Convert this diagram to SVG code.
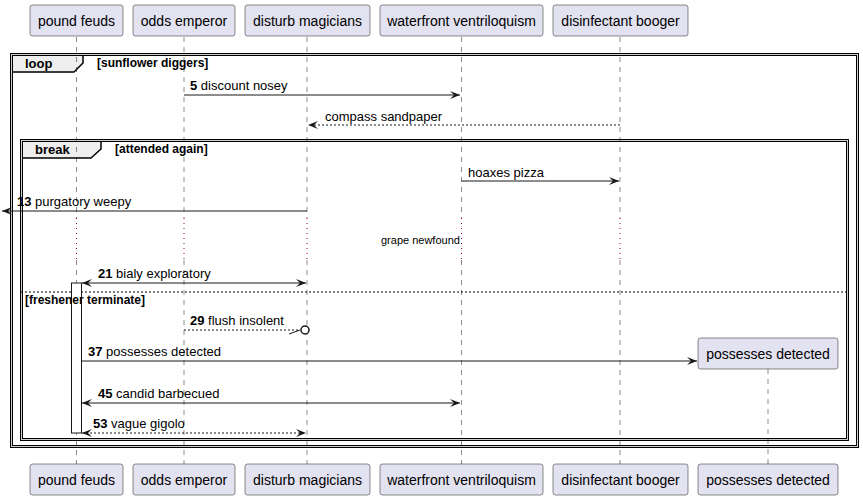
<svg xmlns="http://www.w3.org/2000/svg" width="863" height="501" viewBox="0 0 863 501">
<style>
.pbox{fill:#E2E2F0;stroke:#181818;stroke-width:0.5}
.plab{font-family:"Liberation Sans",Arial,sans-serif;font-size:14px;fill:#000;text-anchor:middle}
.life{stroke:#181818;stroke-width:0.5;stroke-dasharray:5,5;fill:none}
.delay{stroke:#990033;stroke-width:1;stroke-dasharray:1,4;fill:none}
.frame{fill:none;stroke:#000;stroke-width:3}
.frame2{fill:none;stroke:#d0d0d0;stroke-width:1}
.tab{fill:#EEEEEE;stroke:#000;stroke-width:1.5}
.ftitle{font-family:"Liberation Sans",Arial,sans-serif;font-size:13px;font-weight:bold;fill:#000}
.fcond{font-family:"Liberation Sans",Arial,sans-serif;font-size:12px;font-weight:bold;fill:#000}
.msg{stroke:#181818;stroke-width:1;fill:none}
.dash{stroke-dasharray:2,2}
.mtxt{font-family:"Liberation Sans",Arial,sans-serif;font-size:13px;fill:#000}
.num{font-weight:bold}
.note{font-family:"Liberation Sans",Arial,sans-serif;font-size:11px;fill:#000}
</style>
<defs>
<marker id="ah" viewBox="0 0 10 8" refX="10" refY="4" markerWidth="10" markerHeight="8" markerUnits="userSpaceOnUse" orient="auto-start-reverse">
<polygon points="0,0 10,4 0,8 4,4" fill="#181818"/>
</marker>
</defs>

<g id="frames">
<polygon class="tab" points="11.5,54.5 83,54.5 83,63 74,72 11.5,72"/>
<rect class="frame" x="11.5" y="54.5" width="846" height="392"/>
<rect class="frame2" x="11.5" y="54.5" width="846" height="392"/>
<text class="ftitle" x="25" y="68">loop</text>
<text class="fcond" x="97" y="67">[sunflower diggers]</text>
<polygon class="tab" points="21.5,140.5 101,140.5 101,149 91,158 21.5,158"/>
<rect class="frame" x="21.5" y="140.5" width="826" height="299"/>
<rect class="frame2" x="21.5" y="140.5" width="826" height="299"/>
<text class="ftitle" x="35" y="154">break</text>
<text class="fcond" x="115" y="153">[attended again]</text>
<line x1="21" y1="292" x2="848" y2="292" stroke="#000" stroke-width="1" stroke-dasharray="2,2"/>
</g>

<g id="lifelines">
<path class="life" d="M76.5,37V218M76.5,260V464"/>
<path class="life" d="M184,37V218M184,260V464"/>
<path class="life" d="M307,37V218M307,260V464"/>
<path class="life" d="M461.5,37V218M461.5,260V464"/>
<path class="life" d="M620,37V218M620,260V464"/>
<path class="life" d="M768,369V464"/>
<path class="delay" d="M76.5,218V260M184,218V260M307,218V260M461.5,218V260M620,218V260"/>
<text class="note" x="381" y="244">grape newfound</text>
</g>

<g id="activation">
<rect x="71.5" y="283" width="10" height="150" fill="#fff" stroke="#181818" stroke-width="1"/>
</g>

<g id="else-label">
<text class="fcond" x="25" y="304">[freshener terminate]</text>
</g>

<g id="p-pound-feuds">
<rect class="pbox" x="30" y="5" width="93" height="31" rx="2.5"/>
<text class="plab" x="76.5" y="26">pound feuds</text>
<rect class="pbox" x="30" y="464" width="93" height="31" rx="2.5"/>
<text class="plab" x="76.5" y="485">pound feuds</text>
</g>
<g id="p-odds-emperor">
<rect class="pbox" x="133" y="5" width="102" height="31" rx="2.5"/>
<text class="plab" x="184" y="26">odds emperor</text>
<rect class="pbox" x="133" y="464" width="102" height="31" rx="2.5"/>
<text class="plab" x="184" y="485">odds emperor</text>
</g>
<g id="p-disturb-magicians">
<rect class="pbox" x="245" y="5" width="125" height="31" rx="2.5"/>
<text class="plab" x="307.5" y="26">disturb magicians</text>
<rect class="pbox" x="245" y="464" width="125" height="31" rx="2.5"/>
<text class="plab" x="307.5" y="485">disturb magicians</text>
</g>
<g id="p-waterfront-ventriloquism">
<rect class="pbox" x="380" y="5" width="163" height="31" rx="2.5"/>
<text class="plab" x="461.5" y="26">waterfront ventriloquism</text>
<rect class="pbox" x="380" y="464" width="163" height="31" rx="2.5"/>
<text class="plab" x="461.5" y="485">waterfront ventriloquism</text>
</g>
<g id="p-disinfectant-booger">
<rect class="pbox" x="553" y="5" width="135" height="31" rx="2.5"/>
<text class="plab" x="620.5" y="26">disinfectant booger</text>
<rect class="pbox" x="553" y="464" width="135" height="31" rx="2.5"/>
<text class="plab" x="620.5" y="485">disinfectant booger</text>
</g>
<g id="p-possesses-detected">
<rect class="pbox" x="698" y="338" width="140" height="31" rx="2.5"/>
<text class="plab" x="768" y="359">possesses detected</text>
<rect class="pbox" x="698" y="464" width="140" height="31" rx="2.5"/>
<text class="plab" x="768" y="485">possesses detected</text>
</g>

<g id="connectors">
<line class="msg" x1="184" y1="95" x2="460" y2="95" marker-end="url(#ah)"/>
<text class="mtxt" x="190" y="90"><tspan class="num">5</tspan> discount nosey</text>

<line class="msg dash" x1="620" y1="125" x2="308" y2="125" marker-end="url(#ah)"/>
<text class="mtxt" x="325" y="121">compass sandpaper</text>

<line class="msg" x1="461.5" y1="181" x2="619" y2="181" marker-end="url(#ah)"/>
<text class="mtxt" x="468" y="177">hoaxes pizza</text>

<line class="msg" x1="307" y1="211" x2="2" y2="211" marker-end="url(#ah)"/>
<text class="mtxt" x="17" y="206"><tspan class="num">13</tspan> purgatory weepy</text>

<line class="msg" x1="82" y1="283" x2="306" y2="283" marker-start="url(#ah)" marker-end="url(#ah)"/>
<text class="mtxt" x="98" y="278"><tspan class="num">21</tspan> bialy exploratory</text>

<line class="msg dash" x1="184" y1="330" x2="298" y2="330"/>
<line class="msg" x1="289" y1="334" x2="300" y2="330"/>
<circle cx="305" cy="330" r="4" fill="#fff" stroke="#181818" stroke-width="1.5"/>
<text class="mtxt" x="190" y="325"><tspan class="num">29</tspan> flush insolent</text>

<line class="msg" x1="81.5" y1="361" x2="697" y2="361" marker-end="url(#ah)"/>
<text class="mtxt" x="88" y="356"><tspan class="num">37</tspan> possesses detected</text>

<line class="msg" x1="82" y1="403" x2="460" y2="403" marker-start="url(#ah)" marker-end="url(#ah)"/>
<text class="mtxt" x="98" y="398"><tspan class="num">45</tspan> candid barbecued</text>

<line class="msg dash" x1="82" y1="433" x2="306" y2="433" marker-start="url(#ah)" marker-end="url(#ah)"/>
<text class="mtxt" x="93" y="428"><tspan class="num">53</tspan> vague gigolo</text>
</g>
</svg>
